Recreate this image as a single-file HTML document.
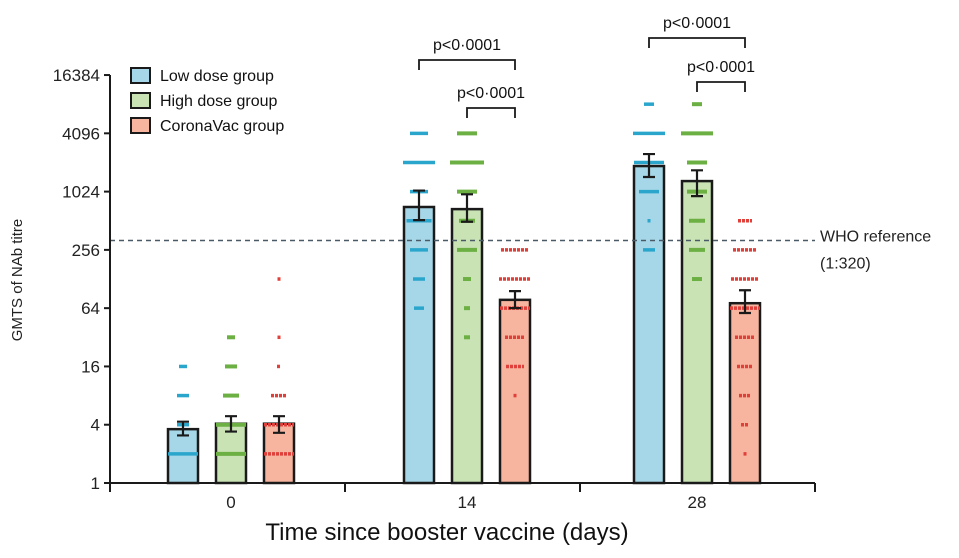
<!DOCTYPE html>
<html><head><meta charset="utf-8"><style>
html,body{margin:0;padding:0;background:#fff;}
svg{display:block;font-family:"Liberation Sans",sans-serif;}
</style></head><body>
<svg id="chart" width="959" height="558" viewBox="0 0 959 558"></svg>
<script>
const days = ["0","14","28"];
const groups = ["Low dose group","High dose group","CoronaVac group"];
const gmt = [[3.6,4.1,4.1],[710,675,78],[1880,1315,72]];
const errLow = [[3.1,3.4,3.3],[520,500,64],[1450,920,57]];
const errHigh = [[4.3,4.9,4.9],[1050,960,96],[2500,1700,98]];
const yTicks = [1,4,16,64,256,1024,4096,16384];
const whoRef = 320;
// individual points: [value, count]
const pts = [
 [[[2,30],[4,12],[8,12],[16,8]], [[2,30],[4,30],[8,16],[16,12],[32,8]], [[2,30],[4,30],[8,16],[16,4],[32,2],[128,2]]],
 [[[4096,18],[2048,32],[1024,18],[512,25],[256,18],[128,12],[64,10]], [[4096,20],[2048,34],[1024,20],[512,16],[256,20],[128,8],[64,6],[32,6]], [[256,28],[128,32],[64,30],[32,20],[16,18],[8,2]]],
 [[[8192,10],[4096,32],[2048,30],[1024,20],[512,3],[256,12]], [[8192,10],[4096,32],[2048,20],[1024,20],[512,16],[256,16],[128,10]], [[512,14],[256,24],[128,28],[64,30],[32,20],[16,16],[8,12],[4,8],[2,2]]]
];
const pvals = ["p<0·0001","p<0·0001","p<0·0001","p<0·0001"];

const NS="http://www.w3.org/2000/svg";
const svg=document.getElementById('chart');
const fill=["#a6d7e8","#c9e3b5","#f7b5a0"];
const dot=["#2aa6cc","#6cb043","#e0403a"];
const x0=110,x1=815,yBase=483,pxPerDbl=29.14;
const centers=[231,467,697];
function y(v){return yBase-Math.log2(v)*pxPerDbl;}
const groupW=(x1-x0)/3;
function cx(d){return centers[d];}
function bx(d,g){return cx(d)+(g-1)*48;}
function el(t,a,p){const e=document.createElementNS(NS,t);for(const k in a)e.setAttribute(k,a[k]);(p||svg).appendChild(e);return e;}

for(let d=0;d<3;d++)for(let g=0;g<3;g++){
  const x=bx(d,g);
  const r=el('rect',{x:x-15,y:y(gmt[d][g]),width:30,height:yBase-y(gmt[d][g]),fill:fill[g],stroke:"#1a1a1a","stroke-width":2.5});
  
  
}
for(let d=0;d<3;d++)for(let g=0;g<3;g++){
  pts[d][g].forEach(p=>{
    const w=Math.max(p[1],3);
    const l=el('line',{x1:bx(d,g)-w/2,x2:bx(d,g)+w/2,y1:y(p[0]),y2:y(p[0]),stroke:dot[g],"stroke-width":g==1?4:3.5,"stroke-dasharray":g==2?"3 1":"none"});
    
    
  });
}
for(let d=0;d<3;d++)for(let g=0;g<3;g++){
  const x=bx(d,g);
  const e=el('path',{d:`M${x} ${y(errLow[d][g])}V${y(errHigh[d][g])}M${x-6} ${y(errLow[d][g])}h12M${x-6} ${y(errHigh[d][g])}h12`,stroke:"#1a1a1a","stroke-width":2.2,fill:"none"});
  
  
}
const who=el('line',{x1:x0,x2:x1,y1:y(whoRef),y2:y(whoRef),stroke:"#4a5a66","stroke-width":1.5,"stroke-dasharray":"5 4"});


const wt=el('text',{x:820,y:y(whoRef)+1,"font-size":16,fill:"#222"});wt.textContent="WHO reference";

const wt2=el('text',{x:820,y:y(whoRef)+28,"font-size":16,fill:"#222"});wt2.textContent="(1:320)";

const ax=el('path',{d:`M${x0} ${y(yTicks[yTicks.length-1])}V${yBase}H${x1}`,stroke:"#1a1a1a","stroke-width":2,fill:"none"});

yTicks.forEach(v=>{
  el('line',{x1:x0-6,x2:x0,y1:y(v),y2:y(v),stroke:"#1a1a1a","stroke-width":2});
  const t=el('text',{x:100,y:y(v)+6,"font-size":17,"text-anchor":"end",fill:"#222"});t.textContent=v;
  
});
for(let i=0;i<=3;i++)el('line',{x1:x0+groupW*i,x2:x0+groupW*i,y1:yBase,y2:yBase+9,stroke:"#1a1a1a","stroke-width":2});
days.forEach((dl,d)=>{const t=el('text',{x:cx(d),y:508,"font-size":17,"text-anchor":"middle",fill:"#222"});t.textContent=dl;
  });
const xt=el('text',{x:447,y:540,"font-size":24,"text-anchor":"middle",fill:"#111"});xt.textContent="Time since booster vaccine (days)";

const yt=el('text',{x:0,y:0,"font-size":15,"text-anchor":"middle",fill:"#222",transform:"translate(22,280) rotate(-90)"});yt.textContent="GMTS of NAb titre";

const br=[[1,0,2,60,38],[1,1,2,108,86],[2,0,2,38,16],[2,1,2,82,60]];
br.forEach((b,i)=>{
  const xa=bx(b[0],b[1]),xb=bx(b[0],b[2]);
  const p=el('path',{d:`M${xa} ${b[3]+10}V${b[3]}H${xb}V${b[3]+10}`,stroke:"#1a1a1a","stroke-width":1.8,fill:"none"});
  
  const t=el('text',{x:(xa+xb)/2,y:b[4]+12,"font-size":16,"text-anchor":"middle",fill:"#111"});t.textContent=pvals[i];
  
});
groups.forEach((gname,g)=>{
  const r=el('rect',{x:131,y:68+g*25,width:19,height:15,fill:fill[g],stroke:"#1a1a1a","stroke-width":2});
  
  const t=el('text',{x:160,y:81+g*25,"font-size":16,fill:"#111"});t.textContent=gname;
  
});
</script>
</body></html>
